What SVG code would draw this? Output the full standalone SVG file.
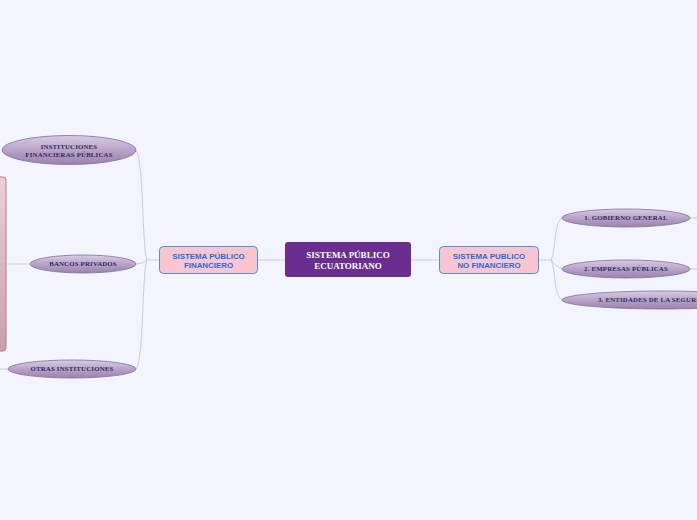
<svg xmlns="http://www.w3.org/2000/svg" width="697" height="520" viewBox="0 0 697 520">
<defs>
<linearGradient id="eg" x1="0" y1="0" x2="0" y2="1">
<stop offset="0" stop-color="#d9cbe3"/>
<stop offset="0.5" stop-color="#b9a3c9"/>
<stop offset="1" stop-color="#9a82ad"/>
</linearGradient>
<linearGradient id="rg" x1="0" y1="0" x2="0" y2="1">
<stop offset="0" stop-color="#ecd0d6"/>
<stop offset="1" stop-color="#c9a0ab"/>
</linearGradient>
<style>
.c{fill:none;stroke:#c9cdd8;stroke-width:1}
.el{fill:url(#eg);stroke:#7f6f9c;stroke-width:0.8}
.et{font-family:"Liberation Serif",serif;font-weight:bold;font-size:6.8px;letter-spacing:0.2px;fill:#2e2c5a;text-anchor:middle}
.sub{fill:#f9c6d0;stroke:#4a8fe0;stroke-width:1}
.st{font-family:"Liberation Sans",Arial,sans-serif;font-weight:bold;font-size:7.9px;fill:#1a6de0;text-anchor:middle}
.mt{font-family:"Liberation Serif",serif;font-weight:bold;font-size:9px;fill:#ffffff;text-anchor:middle}
</style>
</defs>
<rect width="697" height="520" fill="#f2f5fe"/>
<g id="connectors">
<path class="c" d="M258 260 H285"/>
<path class="c" d="M411 260 H439"/>
<path class="c" d="M159 260 H147"/>
<path class="c" d="M147 260 C142 250 144 160 136 150"/>
<path class="c" d="M147 260 Q142 264 136 264"/>
<path class="c" d="M147 260 C142 270 144 360 136 369"/>
<path class="c" d="M30 264 H6"/>
<path class="c" d="M8 369 H0"/>
<path class="c" d="M539 260 H551"/>
<path class="c" d="M551 260 C556 250 554 222 562 218"/>
<path class="c" d="M551 260 Q556 267 562 269"/>
<path class="c" d="M551 260 C556 270 554 296 562 300"/>
<path class="c" d="M690 218 H697"/>
<path class="c" d="M690 269 H697"/>
</g>
<g id="left-box">
<rect x="-10" y="177" width="16" height="174" rx="3" fill="url(#rg)" stroke="#b37f8d" stroke-width="1"/>
</g>
<g id="central">
<rect x="285" y="242" width="126" height="35" rx="3" fill="#6a2d90"/>
<text class="mt" x="348" y="258">SISTEMA PÚBLICO</text>
<text class="mt" x="348" y="268.5">ECUATORIANO</text>
</g>
<g id="financiero">
<rect class="sub" x="159.5" y="246.5" width="98" height="27" rx="4"/>
<text class="st" x="208.5" y="258.5">SISTEMA PÚBLICO</text>
<text class="st" x="208.5" y="267.5">FINANCIERO</text>
</g>
<g id="no-financiero">
<rect class="sub" x="439.5" y="246.5" width="99" height="27" rx="4"/>
<text class="st" x="489" y="258.5">SISTEMA PUBLICO</text>
<text class="st" x="489" y="267.5">NO FINANCIERO</text>
</g>
<g id="instituciones">
<ellipse class="el" cx="69" cy="150" rx="67" ry="14.5"/>
<text class="et" x="69" y="148.5">INSTITUCIONES</text>
<text class="et" x="69" y="156.5">FINANCIERAS PÚBLICAS</text>
</g>
<g id="bancos">
<ellipse class="el" cx="83" cy="264" rx="53" ry="9"/>
<text class="et" x="83" y="266.4">BANCOS PRIVADOS</text>
</g>
<g id="otras">
<ellipse class="el" cx="72" cy="369" rx="64" ry="9"/>
<text class="et" x="72" y="371.4">OTRAS INSTITUCIONES</text>
</g>
<g id="gobierno">
<ellipse class="el" cx="626" cy="218" rx="64" ry="9"/>
<text class="et" x="626" y="220.4">1. GOBIERNO GENERAL</text>
</g>
<g id="empresas">
<ellipse class="el" cx="626" cy="269" rx="64" ry="9"/>
<text class="et" x="626" y="271.4">2. EMPRESAS PÚBLICAS</text>
</g>
<g id="entidades">
<ellipse class="el" cx="662" cy="300" rx="100" ry="9"/>
<text class="et" x="598" y="302.4" style="text-anchor:start">3. ENTIDADES DE LA SEGURIDAD SOCIAL</text>
</g>
</svg>
